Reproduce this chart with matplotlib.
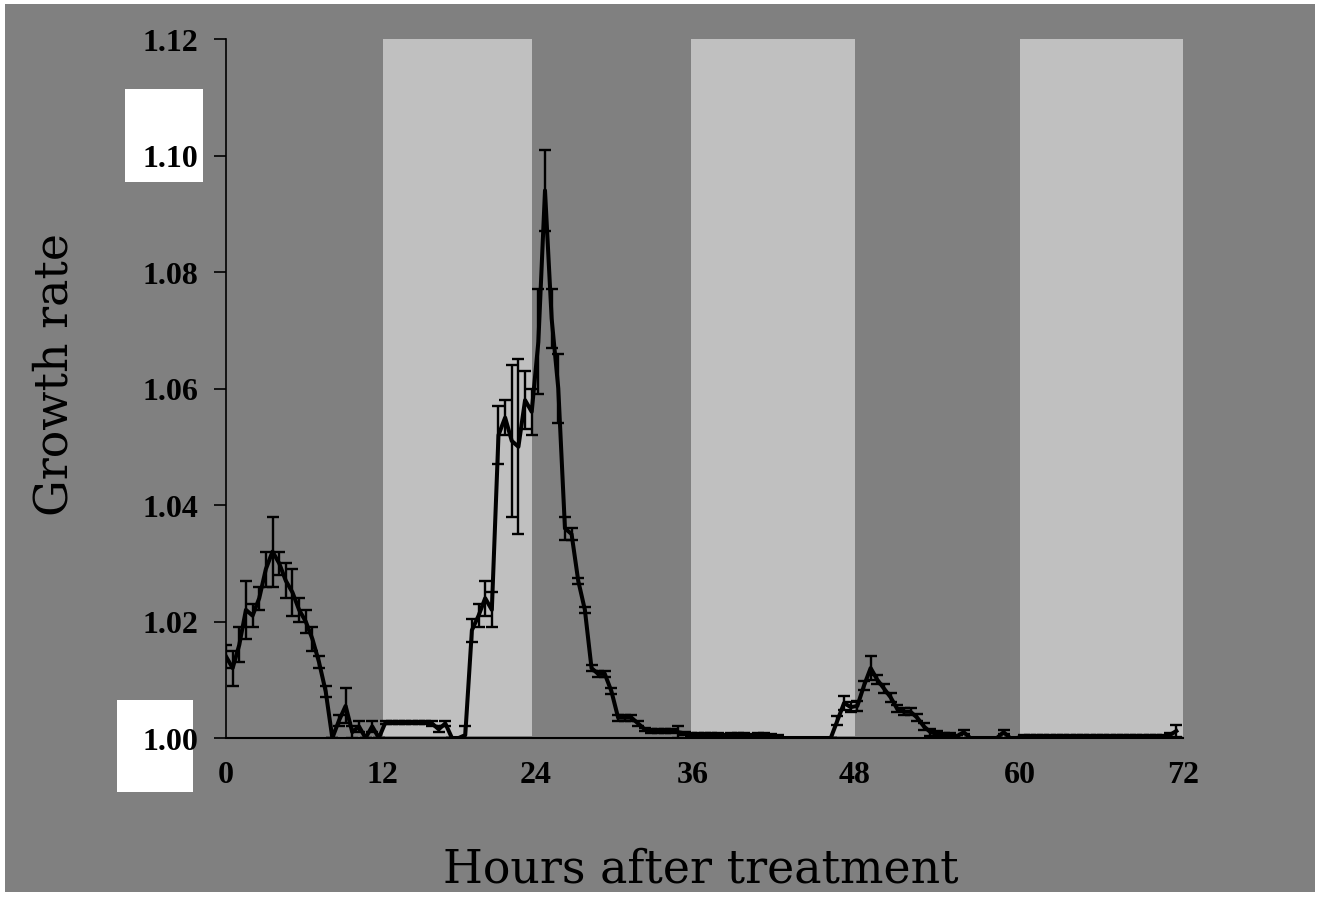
"""
Growth rate after treatment, with dark-period shading
"""
import numpy as np
import matplotlib
matplotlib.use('Agg')
import matplotlib.pyplot as plt
from matplotlib.patches import Rectangle

# Sampling every 30 min
hours = np.arange(0, 72, 0.5)

growth = [
    # 0 - 5.5 h
    1.014, 1.012, 1.016, 1.022, 1.021, 1.024, 1.029, 1.032, 1.030, 1.027, 1.025, 1.022,
    # 6 - 11.5 h
    1.020, 1.017, 1.013, 1.008, 1.000, 1.003, 1.0055, 1.001, 1.002, 1.000, 1.002, 1.000,
    # 12 - 17.5 h
    1.0027, 1.0027, 1.0027, 1.0027, 1.0027, 1.0027, 1.0027, 1.0025, 1.0015, 1.0025, 1.000, 1.000,
    # 18 - 23.5 h
    1.0005, 1.0185, 1.021, 1.024, 1.022, 1.052, 1.055, 1.051, 1.050, 1.058, 1.056, 1.068,
    # 24 - 29.5 h
    1.094, 1.072, 1.060, 1.036, 1.035, 1.027, 1.022, 1.012, 1.011, 1.011, 1.008, 1.0035,
    # 30 - 35.5 h
    1.0035, 1.0035, 1.0025, 1.0015, 1.0012, 1.0012, 1.0012, 1.0012, 1.001, 1.0008, 1.0006, 1.0006,
    # 36 - 41.5 h
    1.0005, 1.0004, 1.0005, 1.0003, 1.0004, 1.0005, 1.0004, 1.0003, 1.0004, 1.0005, 1.0003, 1.0002,
    # 42 - 47.5 h
    1.000, 1.000, 1.000, 1.000, 1.000, 1.000, 1.000, 1.000, 1.003, 1.006, 1.0053, 1.0055,
    # 48 - 53.5 h
    1.009, 1.012, 1.010, 1.0085, 1.007, 1.005, 1.0045, 1.0045, 1.0035, 1.002, 1.001, 1.0007,
    # 54 - 59.5 h
    1.0005, 1.0005, 1.0003, 1.001, 1.000, 1.000, 1.000, 1.000, 1.000, 1.001, 1.000, 1.000,
    # 60 - 65.5 h
    1.0003, 1.0003, 1.0002, 1.0003, 1.0003, 1.0002, 1.0003, 1.0003, 1.0002, 1.0003, 1.0003, 1.0002,
    # 66 - 71.5 h
    1.0003, 1.0002, 1.0002, 1.0003, 1.0002, 1.0002, 1.0002, 1.0002, 1.0002, 1.0002, 1.0005, 1.0012,
]

error = [
    0.002, 0.003, 0.003, 0.005, 0.002, 0.002, 0.003, 0.006, 0.002, 0.003, 0.004, 0.002,
    0.002, 0.002, 0.001, 0.001, 0.000, 0.001, 0.003, 0.001, 0.001, 0.000, 0.001, 0.000,
    0.0003, 0.0003, 0.0003, 0.0003, 0.0003, 0.0003, 0.0003, 0.0004, 0.0005, 0.0004, 0.000, 0.000,
    0.0015, 0.002, 0.002, 0.003, 0.003, 0.005, 0.003, 0.013, 0.015, 0.005, 0.004, 0.009,
    0.007, 0.005, 0.006, 0.002, 0.001, 0.0005, 0.0005, 0.0005, 0.0005, 0.0005, 0.0005, 0.0005,
    0.0005, 0.0005, 0.0005, 0.0003, 0.0003, 0.0003, 0.0003, 0.0003, 0.001, 0.0003, 0.0003, 0.0003,
    0.0004, 0.0004, 0.0004, 0.0004, 0.0004, 0.0004, 0.0004, 0.0004, 0.0004, 0.0004, 0.0004, 0.0004,
    0.000, 0.000, 0.000, 0.000, 0.000, 0.000, 0.000, 0.000, 0.0008, 0.0012, 0.0008, 0.0008,
    0.0008, 0.002, 0.0008, 0.0008, 0.0008, 0.0006, 0.0006, 0.0006, 0.0006, 0.0006, 0.0006, 0.0005,
    0.0003, 0.0003, 0.0003, 0.0003, 0.000, 0.000, 0.000, 0.000, 0.000, 0.0003, 0.000, 0.000,
    0.0003, 0.0003, 0.0003, 0.0003, 0.0003, 0.0003, 0.0003, 0.0003, 0.0003, 0.0003, 0.0003, 0.0003,
    0.0003, 0.0003, 0.0003, 0.0003, 0.0003, 0.0003, 0.0003, 0.0003, 0.0003, 0.0003, 0.0003, 0.001,
]

# Dark periods (light grey bands)
dark_start = [11.8, 35.0, 59.7]
dark_end = [23.0, 47.3, 72.0]

# Axis labels as they sit on the original axis
xtick_pos = [0, 11.8, 23.3, 35.1, 47.3, 59.7, 72]
xtick_labels = ['0', '12', '24', '36', '48', '60', '72']
ytick_vals = [1.00, 1.02, 1.04, 1.06, 1.08, 1.10, 1.12]

GREY = '#808080'
LIGHT = '#c0c0c0'
serif = 'Liberation Serif'

fig = plt.figure(figsize=(13.25, 9.03), dpi=100)
fig.patch.set_facecolor('white')

# grey panel with thin white frame
fig.patches.append(Rectangle((5 / 1325, 10 / 903), 1310 / 1325, 888 / 903,
                             transform=fig.transFigure, facecolor=GREY,
                             edgecolor='none', zorder=-2))
# white boxes behind two of the tick labels
fig.patches.append(Rectangle((125 / 1325, 720 / 903), 78 / 1325, 93 / 903,
                             transform=fig.transFigure, facecolor='white',
                             edgecolor='none', zorder=-1))
fig.patches.append(Rectangle((117 / 1325, 110 / 903), 76 / 1325, 92 / 903,
                             transform=fig.transFigure, facecolor='white',
                             edgecolor='none', zorder=-1))

ax = fig.add_axes([226 / 1325, 164 / 903, 957 / 1325, 699 / 903])
ax.set_facecolor('none')

for s, e in zip(dark_start, dark_end):
    ax.axvspan(s, e, ymin=0.003, ymax=1, color=LIGHT, lw=0, zorder=0)

ax.errorbar(hours, growth, yerr=error, color='black', lw=2.9,
            elinewidth=1.7, capsize=4, capthick=1.7, zorder=3)

ax.set_xlim(0, 72)
ax.set_ylim(1.0, 1.12)

for side in ['top', 'right']:
    ax.spines[side].set_visible(False)
ax.spines['left'].set_linewidth(1.2)
ax.spines['bottom'].set_linewidth(1.5)

ax.set_yticks(ytick_vals)
ax.set_yticklabels(['%.2f' % v for v in ytick_vals])
ax.set_xticks(xtick_pos)
ax.set_xticklabels(xtick_labels)

ax.tick_params(axis='y', direction='out', length=9, width=1.2, pad=11)
ax.tick_params(axis='x', length=0, pad=16)
for lab in ax.get_xticklabels() + ax.get_yticklabels():
    lab.set_fontfamily(serif)
    lab.set_fontweight('bold')
    lab.set_fontsize(23)

fig.text(701 / 1325, 1 - 870 / 903, 'Hours after treatment', ha='center',
         va='center', fontsize=33, family='DejaVu Serif')
fig.text(55 / 1325, 1 - 375 / 903, 'Growth rate', ha='center', va='center',
         rotation=90, fontsize=33, family='DejaVu Serif')

fig.savefig('out.png', dpi=100)
